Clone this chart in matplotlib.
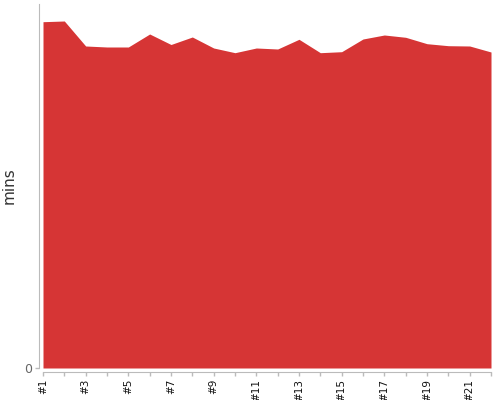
import matplotlib
matplotlib.use("Agg")
import matplotlib.pyplot as plt

RUNS = list(range(1, 23))
ETIQUETAS = ["#%d" % r for r in RUNS]
MINUTOS = [346.3, 347, 322, 321, 321, 334, 323.5, 331, 320, 315.3, 320,
           319, 328.7, 315.3, 316.3, 329, 333, 330.7, 324.3, 322.3, 322, 316]
Y_MAX = 364

ROJO = "#d63535"
GRIS = "#bbbbbb"

fig = plt.figure(figsize=(5, 4), dpi=100)
ax = fig.add_axes([0.086, 0.08, 0.896, 0.91])

# los ejes van separados del area, asi que se fijan antes de los ticks
for lado in ["top", "right"]:
    ax.spines[lado].set_visible(False)
for lado in ["left", "bottom"]:
    ax.spines[lado].set_color(GRIS)
    ax.spines[lado].set_position(("outward", 3))

ax.fill_between(RUNS, 0, MINUTOS, color=ROJO, linewidth=0)
ax.set_xlim(RUNS[0], RUNS[-1])
ax.set_ylim(0, Y_MAX)

ax.set_xticks(RUNS)
ax.set_xticklabels([e if i % 2 == 0 else "" for i, e in enumerate(ETIQUETAS)],
                   fontsize=7.5, color="#111111", rotation=90)
ax.set_yticks([0])
ax.set_yticklabels(["0"], fontsize=9, color="#666666")
ax.set_ylabel("mins", fontsize=11, color="#333333", labelpad=5)
ax.tick_params(axis="both", length=3, width=1, color=GRIS, pad=2)

fig.savefig("out.png", dpi=100)
